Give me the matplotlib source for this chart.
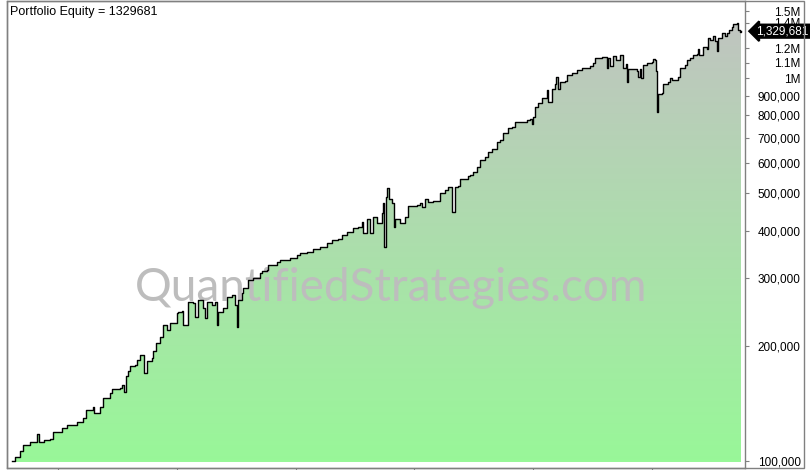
"""
Portfolio equity curve, log scale, gradient fill.
"""
import numpy as np
import matplotlib
matplotlib.use("Agg")
import matplotlib.pyplot as plt
import matplotlib.transforms as mtransforms
from matplotlib.colors import LinearSegmentedColormap
from matplotlib.patches import Rectangle

plt.rcParams['font.family'] = ['Liberation Sans', 'DejaVu Sans']

# --- Data (equity in thousands of dollars, x in decimal years) ---
years = [
    1993.05, 1993.19, 1993.40, 1993.51, 1993.82, 1994.10, 1994.20, 1994.41, 1994.66, 1994.79,
    1995.17, 1995.38, 1995.80, 1996.05, 1996.18, 1996.47, 1996.52, 1996.77, 1996.89, 1997.19,
    1997.27, 1997.61, 1997.69, 1997.78, 1997.86, 1997.95, 1998.03, 1998.24, 1998.32, 1998.45,
    1998.62, 1998.75, 1998.96, 1999.00, 1999.12, 1999.29, 1999.42, 1999.59, 1999.71, 2000.01,
    2000.05, 2000.22, 2000.26, 2000.47, 2000.68, 2000.77, 2000.89, 2001.10, 2001.18, 2001.27,
    2001.48, 2001.61, 2001.69, 2001.73, 2001.94, 2002.11, 2002.32, 2002.45, 2002.53, 2002.58,
    2002.74, 2002.79, 2003.00, 2003.21, 2003.50, 2003.59, 2003.80, 2003.84, 2004.22, 2004.34,
    2004.76, 2005.06, 2005.19, 2005.48, 2005.73, 2006.03, 2006.32, 2006.53, 2006.78, 2006.95,
    2007.16, 2007.42, 2007.63, 2007.80, 2007.84, 2008.01, 2008.14, 2008.26, 2008.43, 2008.64,
    2008.68, 2008.72, 2008.80, 2008.85, 2008.93, 2009.06, 2009.14, 2009.18, 2009.39, 2009.60,
    2009.73, 2010.11, 2010.24, 2010.32, 2010.45, 2010.57, 2010.78, 2011.08, 2011.29, 2011.41,
    2011.58, 2011.71, 2011.84, 2011.92, 2012.26, 2012.34, 2012.47, 2012.63, 2012.76, 2012.97,
    2013.10, 2013.27, 2013.48, 2013.60, 2013.73, 2013.94, 2014.11, 2014.23, 2014.57, 2014.74,
    2014.87, 2014.95, 2014.99, 2015.08, 2015.20, 2015.37, 2015.58, 2015.62, 2015.79, 2015.92,
    2015.96, 2016.04, 2016.13, 2016.34, 2016.42, 2016.63, 2016.84, 2017.05, 2017.39, 2017.52,
    2017.60, 2017.90, 2018.06, 2018.11, 2018.15, 2018.24, 2018.36, 2018.48, 2018.65, 2018.73,
    2018.78, 2018.90, 2018.95, 2018.99, 2019.16, 2019.37, 2019.41, 2019.49, 2019.54, 2019.62,
    2019.79, 2020.00, 2020.04, 2020.13, 2020.17, 2020.21, 2020.25, 2020.42, 2020.46, 2020.67,
    2020.76, 2020.84, 2021.05, 2021.09, 2021.18, 2021.39, 2021.47, 2021.60, 2021.73, 2021.89,
    2021.94, 2021.98, 2022.15, 2022.31, 2022.36, 2022.44, 2022.57, 2022.65, 2022.74, 2022.78,
    2022.95, 2023.07, 2023.16, 2023.24, 2023.37, 2023.41, 2023.58, 2023.62, 2023.70, 2023.75,
]
equity_k = [
    100, 102, 106, 110, 112, 117, 112, 113, 114, 119,
    122, 124, 126, 129, 136, 138, 133, 138, 146, 150,
    154, 155, 158, 151, 166, 172, 177, 178, 183, 189,
    169, 182, 185, 193, 203, 211, 226, 220, 229, 243,
    245, 246, 226, 260, 258, 238, 263, 250, 236, 260,
    255, 260, 226, 245, 250, 268, 271, 255, 224, 263,
    274, 283, 297, 300, 310, 313, 315, 325, 330, 335,
    338, 345, 350, 352, 357, 363, 372, 378, 380, 390,
    397, 406, 409, 420, 395, 429, 393, 434, 418, 444,
    473, 363, 490, 518, 484, 473, 409, 430, 418, 435,
    464, 466, 473, 461, 485, 476, 478, 500, 510, 520,
    446, 520, 522, 547, 555, 558, 570, 588, 612, 622,
    643, 652, 683, 690, 719, 740, 746, 769, 771, 779,
    784, 760, 792, 844, 862, 888, 933, 870, 941, 968,
    1010, 940, 980, 982, 1021, 1033, 1050, 1068, 1075, 1096,
    1130, 1137, 1139, 1068, 1130, 1080, 1144, 1120, 1152, 1153,
    1068, 1090, 980, 1057, 1058, 1045, 1010, 1057, 1000, 1087,
    1098, 1104, 1127, 1121, 1045, 815, 910, 915, 968, 980,
    1001, 991, 993, 1010, 1068, 1087, 1121, 1130, 1152, 1157,
    1195, 1150, 1208, 1195, 1278, 1261, 1290, 1250, 1180, 1278,
    1317, 1290, 1318, 1339, 1366, 1391, 1393, 1339, 1325, 1329.681,
]
final_equity = 1329681

ytick_values = [100000, 200000, 300000, 400000, 500000, 600000, 700000, 800000,
                900000, 1000000, 1100000, 1200000, 1400000, 1500000]
ytick_labels = ["100,000", "200,000", "300,000", "400,000", "500,000", "600,000",
                "700,000", "800,000", "900,000", "1M", "1.1M", "1.2M", "1.4M", "1.5M"]
xtick_years = [1995, 2000, 2005, 2010, 2015, 2020]

x = np.array(years)
y = np.array(equity_k) * 1000.0

# --- Figure ---
W, H = 810, 470
fig = plt.figure(figsize=(W / 100, H / 100), dpi=100)
ax = fig.add_axes([7 / W, (H - 468) / H, (745 - 7) / W, (468 - 1) / H])

ax.set_yscale('log')
ax.set_xlim(1992.85, 2023.91)
ax.set_ylim(95600, 1595000)
ax.set_autoscale_on(False)

# gradient fill under the curve
base = 99100
poly = ax.fill_between(x, y, base, step='post', facecolor='none',
                       edgecolor='none', zorder=1)
cmap = LinearSegmentedColormap.from_list('eq', ['#98f898', '#c2c2c2'])
grad = np.linspace(0, 1, 256).reshape(-1, 1)
im = ax.imshow(grad, extent=[0, 1, 0, 1], transform=ax.transAxes,
               origin='lower', cmap=cmap, aspect='auto', zorder=1)
im.set_clip_path(poly.get_paths()[0], transform=ax.transData)

# watermark
ax.text(0.52, 0.385, "QuantifiedStrategies.com", transform=ax.transAxes,
        ha='center', va='center', fontsize=33, color='#bdbdbd',
        family=['Lato', 'DejaVu Sans'], zorder=2)

ax.plot(x, y, drawstyle='steps-post', color='black', lw=1.0, zorder=3)

# --- Axes styling ---
for s in ax.spines.values():
    s.set_color('#808080')
    s.set_linewidth(1.0)

ax.yaxis.tick_right()
ax.yaxis.set_minor_locator(matplotlib.ticker.NullLocator())
ax.set_yticks(ytick_values)
ax.set_yticklabels(ytick_labels)
ax.tick_params(axis='y', which='major', direction='out', length=3, width=0.8,
               color='#808080', labelsize=8.5, pad=37)
for lab in ax.get_yticklabels():
    lab.set_horizontalalignment('right')

ax.set_xticks(xtick_years)
ax.set_xticklabels([])
ax.tick_params(axis='x', direction='out', length=3, width=0.8, color='#808080')

ax.text(3 / W, 0.99, "Portfolio Equity = %d" % final_equity,
        transform=ax.transAxes, ha='left', va='top', fontsize=9, color='black')

# last value label
trans = mtransforms.blended_transform_factory(ax.transAxes, ax.transData)
ax.text(1.0 + 11 / 738, final_equity, "{:,}".format(final_equity), transform=trans,
        ha='left', va='center', fontsize=8.5, color='white', clip_on=False,
        bbox=dict(boxstyle='larrow,pad=0.05', fc='black', ec='black', lw=1.5),
        zorder=5)

# outer frame around price axis
fig.add_artist(Rectangle((7 / W, 2 / H), (804 - 7) / W, (468 - 1) / H,
                         transform=fig.transFigure, fill=False,
                         edgecolor='#808080', lw=1.0))

fig.savefig("out.png", dpi=100)
